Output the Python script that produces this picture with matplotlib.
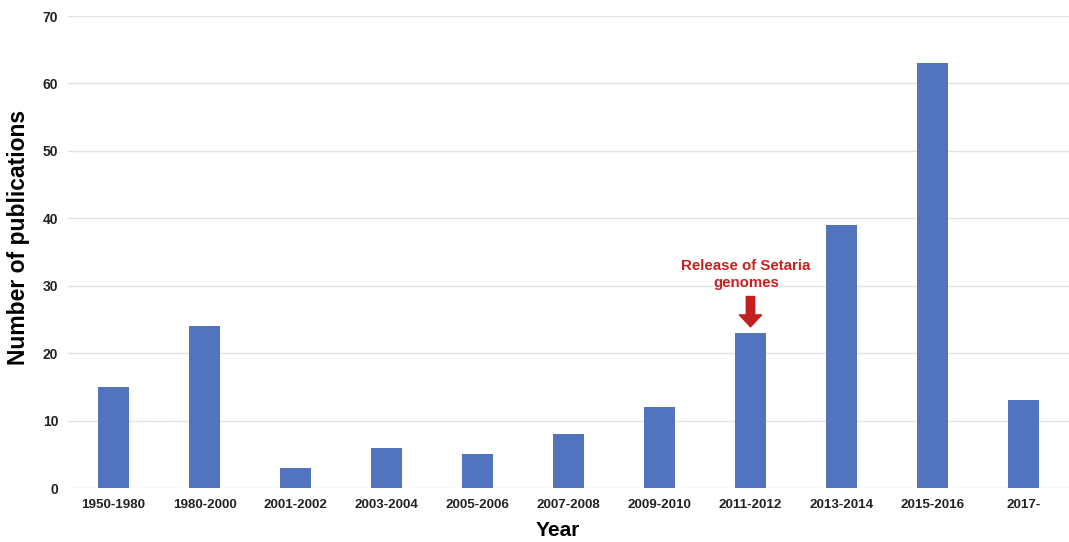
import matplotlib
matplotlib.use("Agg")
import matplotlib.pyplot as plt

categories = ["1950-1980", "1980-2000", "2001-2002", "2003-2004", "2005-2006",
              "2007-2008", "2009-2010", "2011-2012", "2013-2014", "2015-2016", "2017-"]
publications = [15, 24, 3, 6, 5, 8, 12, 23, 39, 63, 13]
yticks = [0, 10, 20, 30, 40, 50, 60, 70]

plt.rcParams['font.family'] = ['Liberation Sans', 'DejaVu Sans']

W, H = 1069, 542
fig = plt.figure(figsize=(W/100, H/100), dpi=100)
ax = fig.add_axes([68/W, 1 - 488/H, (W-68)/W, (488-16)/H])

x = list(range(len(categories)))
ax.bar(x, publications, width=0.35, color="#5273BE", zorder=3)

ax.set_xlim(-0.5, len(categories) - 0.5)
ax.set_ylim(0, 70)
ax.set_yticks(yticks)
ax.set_xticks(x)
ax.set_xticklabels(categories, fontsize=9.6, fontweight='bold', color='#222222')
ax.set_yticklabels([str(t) for t in yticks], fontsize=10, fontweight='bold', color='#222222')
ax.tick_params(axis='x', length=0, pad=8)
ax.tick_params(axis='y', length=0, pad=7)
ax.grid(axis='y', color='#E3E3E3', linewidth=1, zorder=0)
for s in ax.spines.values():
    s.set_visible(False)

fig.text(18.5/W, 1 - 237.5/H, "Number of publications", rotation=90,
         ha='center', va='center', fontsize=16.5, fontweight='bold')
fig.text(558/W, 1 - 531/H, "Year", ha='center', va='center',
         fontsize=15, fontweight='bold')

ax.text(6.95, 31.66, "Release of Setaria\ngenomes", ha='center', va='center',
        fontsize=10.8, fontweight='bold', color='#C8201E', linespacing=1.3)
ax.annotate("", xy=(7.0, 23.9), xytext=(7.0, 28.4),
            arrowprops=dict(arrowstyle='simple,head_width=1.6,head_length=0.86,tail_width=0.6',
                            color='#C0201E', shrinkA=0, shrinkB=0))

fig.savefig("out.png", dpi=100)
